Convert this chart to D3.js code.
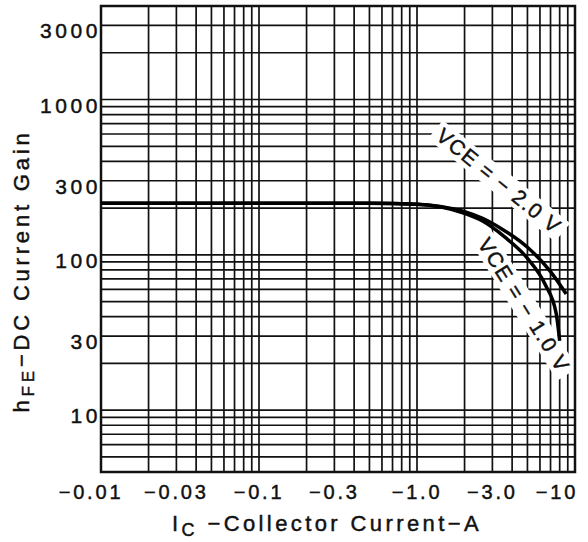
<!DOCTYPE html>
<html>
<head>
<meta charset="utf-8">
<script src="https://cdn.jsdelivr.net/npm/d3@7"></script>
<style>
  body { margin: 0; background: #fff; }
  text { font-family: "Liberation Sans", Arial, sans-serif; fill: #111; stroke: #111; stroke-width: 0.45px; }
</style>
</head>
<body>
<div id="chart"></div>
<script>
var svgWidth = 588;
var svgHeight = 542;

var margin = { top: 6, right: 13, bottom: 70, left: 101 };
var width = svgWidth - margin.left - margin.right;
var height = svgHeight - margin.top - margin.bottom;

// data
var xTickValues = [0.01, 0.03, 0.1, 0.3, 1, 3, 10];
var xTickLabels = ["\u22120.01", "\u22120.03", "\u22120.1", "\u22120.3", "\u22121.0", "\u22123.0", "\u221210"];
var yTickValues = [10, 30, 100, 300, 1000, 3000];
var yTickLabels = ["10", "30", "100", "300", "1000", "3000"];

// VCE = -2.0 V
var ic2 = [0.01, 0.1, 0.5, 1.0, 1.4, 2.0, 2.6, 3.4, 5.0, 7.0, 8.8];
var hfe2 = [215, 215, 215, 212, 205, 190, 172, 148, 112, 78, 56];
// VCE = -1.0 V
var ic1 = [0.01, 0.1, 0.5, 1.0, 1.4, 2.0, 2.6, 3.6, 5.0, 6.5, 7.6, 8.0];
var hfe1 = [215, 215, 215, 212, 204, 185, 165, 130, 95, 64, 42, 28];

var svg = d3.select("#chart")
  .append("svg")
  .attr("width", svgWidth)
  .attr("height", svgHeight);

var chartGroup = svg.append("g")
  .attr("transform", `translate(${margin.left}, ${margin.top})`);

var xScale = d3.scaleLog().domain([0.01, 10]).range([0, width]);
var yScale = d3.scaleLog().domain([4, 4000]).range([height, 0]);

// grid
chartGroup.selectAll(".vgrid")
  .data(xScale.ticks())
  .enter()
  .append("line")
  .attr("x1", d => xScale(d))
  .attr("x2", d => xScale(d))
  .attr("y1", 0)
  .attr("y2", height)
  .attr("stroke", "#111")
  .attr("stroke-width", 1.7);

chartGroup.selectAll(".hgrid")
  .data(yScale.ticks())
  .enter()
  .append("line")
  .attr("x1", 0)
  .attr("x2", width)
  .attr("y1", d => yScale(d))
  .attr("y2", d => yScale(d))
  .attr("stroke", "#111")
  .attr("stroke-width", 1.7);

// curve labels: clear a band of the grid, then write the text
function curveLabel(txt, cx, cy, angle) {
  var g = chartGroup.append("g")
    .attr("transform", `translate(${cx}, ${cy}) rotate(${angle})`);
  var band = g.append("rect").attr("fill", "#fff");
  var t = g.append("text")
    .attr("text-anchor", "middle")
    .attr("dy", "0.35em")
    .style("font-size", "21px")
    .style("letter-spacing", "1.5px")
    .text(txt);
  var len = t.node().getComputedTextLength();
  band.attr("x", -len / 2 - 5)
    .attr("y", -12)
    .attr("width", len + 10)
    .attr("height", 24);
}
curveLabel("VCE = \u2212 2.0 V", 499 - margin.left, 181 - margin.top, 39);
curveLabel("VCE = \u2212 1.0 V", 524 - margin.left, 305 - margin.top, 58);

chartGroup.append("rect")
  .attr("width", width)
  .attr("height", height)
  .attr("fill", "none")
  .attr("stroke", "#111")
  .attr("stroke-width", 2.5);

// tick labels
var nx = xTickValues.length;
chartGroup.selectAll(".xlab")
  .data(xTickValues)
  .enter()
  .append("text")
  .attr("x", (d, i) => xScale(d) + (i === 0 ? -10 : (i === nx - 1 ? -18 : 0)))
  .attr("y", height + 27)
  .attr("text-anchor", "middle")
  .style("font-size", "20px")
  .style("letter-spacing", "2.8px")
  .text((d, i) => xTickLabels[i]);

chartGroup.selectAll(".ylab")
  .data(yTickValues)
  .enter()
  .append("text")
  .attr("x", 0)
  .attr("y", d => yScale(d) + 13)
  .attr("text-anchor", "end")
  .style("font-size", "21px")
  .style("letter-spacing", "3.6px")
  .text((d, i) => yTickLabels[i]);

// curves
var line = d3.line()
  .x(d => xScale(d[0]))
  .y(d => yScale(d[1]))
  .curve(d3.curveMonotoneX);

[[ic2, hfe2], [ic1, hfe1]].forEach(function(s) {
  chartGroup.append("path")
    .datum(d3.zip(s[0], s[1]))
    .attr("d", line)
    .attr("fill", "none")
    .attr("stroke", "#000")
    .attr("stroke-width", 3.5);
});

// axis titles
var xt = svg.append("text")
  .attr("x", 327)
  .attr("y", 531)
  .attr("text-anchor", "middle")
  .style("font-size", "22px")
  .style("letter-spacing", "3.4px");
xt.append("tspan").text("I");
xt.append("tspan").attr("dy", 5).style("font-size", "18px").text("C");
xt.append("tspan").attr("dy", -5).text(" \u2212Collector  Current\u2212A");

var yt = svg.append("text")
  .attr("transform", "translate(29, 271) rotate(-90)")
  .attr("text-anchor", "middle")
  .style("font-size", "22px")
  .style("letter-spacing", "3.8px");
yt.append("tspan").text("h");
yt.append("tspan").attr("dy", 5).style("font-size", "17px").text("FE");
yt.append("tspan").attr("dy", -5).text("\u2212DC  Current  Gain");
</script>
</body>
</html>
